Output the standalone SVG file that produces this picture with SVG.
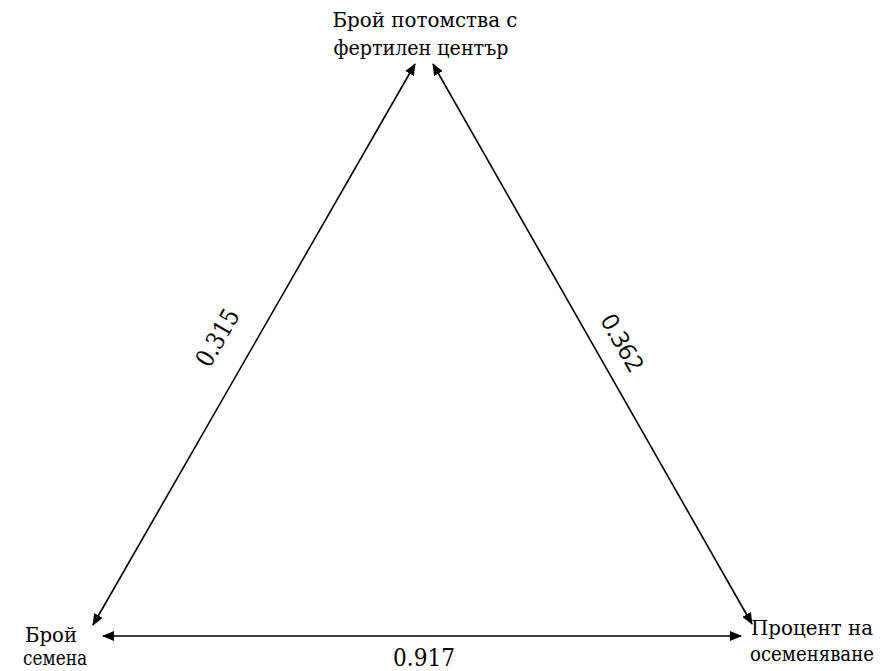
<svg xmlns="http://www.w3.org/2000/svg" width="881" height="671" viewBox="0 0 881 671">
<style>
.lbl{font-family:"DejaVu Serif",serif;font-size:21px;fill:#000;text-anchor:middle}
.num{font-family:"DejaVu Serif",serif;font-size:25px;fill:#000;text-anchor:middle}
.nums{font-family:"Open Sans","DejaVu Sans",sans-serif;font-size:24px;fill:#000;text-anchor:middle}
.edge{stroke:#000;stroke-width:1.6;fill:none;marker-start:url(#ah);marker-end:url(#ah)}
</style>
<defs>
<marker id="ah" viewBox="0 0 12 10" refX="11" refY="5" markerWidth="12" markerHeight="10" markerUnits="userSpaceOnUse" orient="auto-start-reverse">
<path d="M0,0 L12,5 L0,10 Z" fill="#000"/>
</marker>
</defs>
<rect width="881" height="671" fill="#fff"/>
<g id="connectors">
<line class="edge" x1="93" y1="625" x2="415" y2="64"/>
<line class="edge" x1="433" y1="64" x2="752" y2="624"/>
<line class="edge" x1="103" y1="636" x2="741" y2="636"/>
<text class="num" transform="translate(225,342) rotate(-60.1)" textLength="62" lengthAdjust="spacingAndGlyphs">0.315</text>
<text class="nums" transform="translate(615,347) rotate(60.3)" textLength="62" lengthAdjust="spacingAndGlyphs">0.362</text>
<text class="num" x="424" y="666" textLength="62" lengthAdjust="spacingAndGlyphs">0.917</text>
</g>
<g id="node-top">
<text class="lbl" x="425" y="27" textLength="185" lengthAdjust="spacingAndGlyphs">Брой потомства с</text>
<text class="lbl" x="421" y="55" textLength="175" lengthAdjust="spacingAndGlyphs">фертилен център</text>
</g>
<g id="node-left">
<text class="lbl" x="51" y="642" textLength="52" lengthAdjust="spacingAndGlyphs">Брой</text>
<text class="lbl" x="55" y="665" textLength="64" lengthAdjust="spacingAndGlyphs">семена</text>
</g>
<g id="node-right">
<text class="lbl" x="812" y="635" textLength="122" lengthAdjust="spacingAndGlyphs">Процент на</text>
<text class="lbl" x="812" y="661" textLength="124" lengthAdjust="spacingAndGlyphs">осеменяване</text>
</g>
</svg>
